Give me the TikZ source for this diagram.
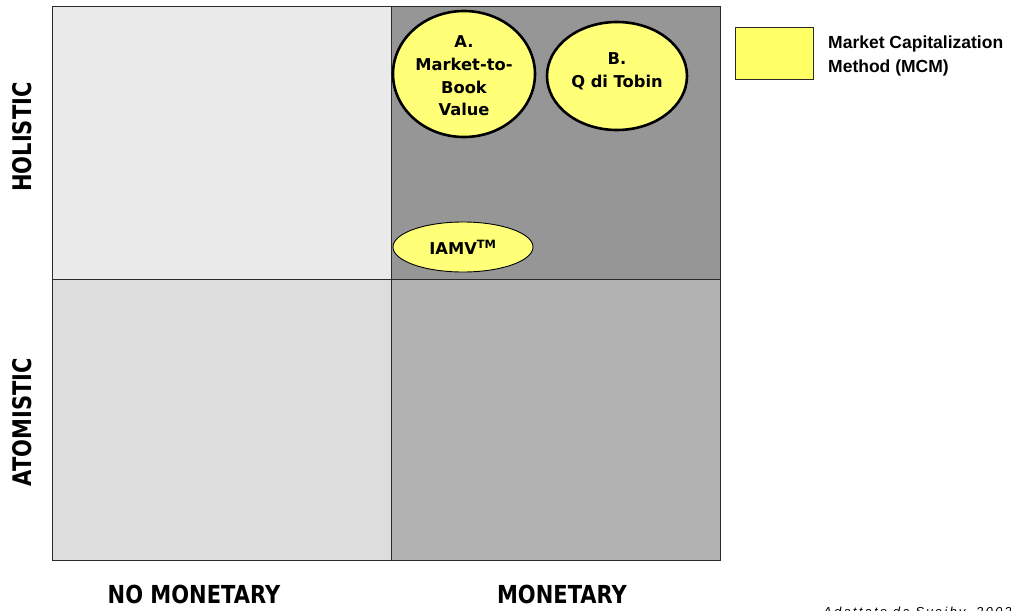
\documentclass[tikz,border=0pt]{standalone}
\usepackage{fontspec}
\setmainfont{DejaVu Sans}
\newfontfamily\legfont{Liberation Sans}
\newfontfamily\srcfont[LetterSpace=17]{Liberation Sans}
\usetikzlibrary{shapes.geometric}
\definecolor{qtl}{HTML}{EAEAEA}
\definecolor{qbl}{HTML}{DDDDDD}
\definecolor{qtr}{HTML}{969696}
\definecolor{qbr}{HTML}{B2B2B2}
\definecolor{ylw}{HTML}{FFFF78}
\definecolor{legy}{HTML}{FFFF66}
\definecolor{gridc}{HTML}{2A2A2A}
\tikzset{
  quad/.style={draw=gridc, line width=0.9pt, inner sep=0pt, outer sep=0pt, rectangle},
  bigell/.style={ellipse, draw=black, line width=2.6pt, fill=ylw, inner sep=0pt},
  elltext/.style={align=center, inner sep=0pt, font=\bfseries\fontsize{16.3}{22.7}\selectfont},
  smallell/.style={ellipse, draw=black, line width=0.9pt, fill=ylw, inner sep=0pt, align=center,
    font=\bfseries\fontsize{16.3}{20}\selectfont},
  axlab/.style={font=\bfseries\fontsize{21}{24}\selectfont, inner sep=0pt},
  legtext/.style={font=\legfont\bfseries\fontsize{17.5}{23.5}\selectfont, align=left, inner sep=0pt, anchor=west}
}
\begin{document}
\begin{tikzpicture}[x=1pt, y=-1pt]
\clip (0,0) rectangle (1011,610);
\fill[white] (0,0) rectangle (1011,610);
% quadrants
\node[quad, fill=qtl, minimum width=339pt, minimum height=273pt] (tl) at (221.5,142.5) {};
\node[quad, fill=qtr, minimum width=329pt, minimum height=273pt] (tr) at (555.5,142.5) {};
\node[quad, fill=qbl, minimum width=339pt, minimum height=281pt] (bl) at (221.5,419.5) {};
\node[quad, fill=qbr, minimum width=329pt, minimum height=281pt] (br) at (555.5,419.5) {};
% ellipses
\node[bigell, minimum width=142pt, minimum height=126pt,
  label={[elltext, yshift=-2pt]center:{A.\\Market-to-\\Book\\Value}}] (a) at (464,74) {};
\node[bigell, minimum width=140pt, minimum height=108pt,
  label={[elltext, yshift=5pt]center:{B.\\Q di Tobin}}] (b) at (617,76) {};
\node[smallell, minimum width=140pt, minimum height=50pt] (iamv) at (463,247) {IAMV\textsuperscript{TM}};
% legend
\node[draw=gridc, line width=0.9pt, fill=legy, minimum width=78pt, minimum height=52pt, inner sep=0pt] (legbox) at (774,53) {};
\node[legtext] (legt) at (828,56) {Market Capitalization\\Method (MCM)};
% axis labels
\node[axlab, yscale=1.18, transform shape] (nomon) at (194,594) {NO MONETARY};
\node[axlab, yscale=1.18, transform shape] (mon) at (562,594) {MONETARY};
\node[axlab, rotate=90, yscale=1.22, transform shape] (hol) at (22,137) {HOLISTIC};
\node[axlab, rotate=90, yscale=1.22, transform shape] (atom) at (22,422) {ATOMISTIC};
% source (cut off at the lower edge, as in the reference)
\node[font=\srcfont\itshape\fontsize{13}{15}\selectfont, anchor=north west, inner sep=0pt] (src) at (823,606.5) {Adattato da Sveiby, 2002};
\end{tikzpicture}
\end{document}
